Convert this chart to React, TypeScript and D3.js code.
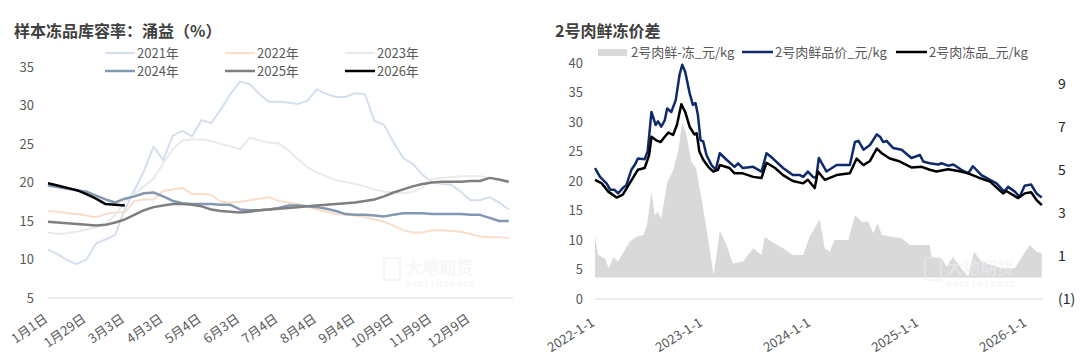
import React from "react";
import * as d3 from "d3";

// ---------- Left chart data ----------
const weekTickLabels = ["1月1日", "1月29日", "3月3日", "4月3日", "5月4日", "6月3日", "7月4日", "8月4日", "9月4日", "10月9日", "11月9日", "12月9日"];
const yearNames = ["2021年", "2022年", "2023年", "2024年", "2025年", "2026年"];
const s2021 = [11.3, 10.7, 9.9, 9.4, 10.0, 12.1, 12.6, 13.2, 16.5, 19.0, 21.5, 24.7, 22.9, 26.1, 26.7, 26.0, 28.1, 27.7, 29.5, 31.5, 33.1, 32.8, 31.5, 30.5, 30.5, 30.4, 30.2, 30.6, 32.1, 31.5, 31.1, 31.1, 31.6, 31.5, 28.0, 27.5, 25.2, 23.2, 22.4, 21.0, 20.1, 19.8, 19.7, 18.8, 17.7, 17.7, 18.1, 17.4, 16.5];
const s2022 = [16.3, 16.2, 16.0, 15.9, 15.7, 15.5, 15.9, 16.1, 16.1, 17.6, 17.8, 17.8, 18.9, 19.1, 19.3, 18.5, 18.5, 18.4, 17.5, 17.4, 17.5, 17.7, 17.9, 18.1, 17.6, 17.4, 17.2, 16.9, 16.5, 16.2, 15.9, 15.8, 15.7, 15.5, 15.2, 14.9, 14.4, 13.8, 13.5, 13.5, 13.8, 13.8, 13.7, 13.6, 13.3, 13.0, 12.9, 12.9, 12.8];
const s2023 = [13.5, 13.3, 13.4, 13.6, 13.9, 14.2, 14.6, 15.8, 17.5, 18.5, 19.5, 20.5, 22.5, 24.3, 25.5, 25.6, 25.6, 25.4, 25.0, 24.7, 24.3, 25.8, 25.5, 25.2, 25.1, 24.2, 23.1, 22.0, 21.3, 20.8, 20.3, 20.1, 19.8, 19.5, 19.1, 18.8, 18.7, 18.6, 18.8, 19.3, 20.5, 20.6, 20.7, 20.8, 20.8, 20.8, 20.6, 20.3, 20.0];
const s2024 = [19.6, 19.4, 19.2, 19.0, 18.8, 18.3, 17.8, 17.4, 17.9, 18.2, 18.6, 18.7, 18.2, 17.6, 17.3, 17.2, 17.2, 17.2, 17.1, 17.1, 16.5, 16.4, 16.4, 16.5, 16.7, 17.0, 17.0, 16.9, 16.8, 16.6, 16.3, 15.9, 15.8, 15.8, 15.7, 15.6, 15.8, 16.0, 16.0, 16.0, 15.9, 15.9, 15.9, 15.9, 15.8, 15.8, 15.4, 15.0, 15.0];
const s2025 = [14.9, 14.8, 14.7, 14.6, 14.5, 14.4, 14.5, 14.8, 15.2, 15.8, 16.4, 16.8, 17.0, 17.2, 17.2, 17.1, 16.9, 16.5, 16.3, 16.2, 16.1, 16.2, 16.4, 16.5, 16.6, 16.7, 16.8, 16.9, 17.0, 17.1, 17.2, 17.3, 17.4, 17.6, 17.8, 18.2, 18.7, 19.1, 19.5, 19.8, 20.0, 20.1, 20.1, 20.1, 20.2, 20.2, 20.6, 20.4, 20.1];
const s2026 = [19.9, 19.6, 19.3, 19.0, 18.5, 17.9, 17.2, 17.1, 17.0];
const leftTicks = [5, 10, 15, 20, 25, 30, 35];

// ---------- Right chart data ----------
const freshDates = ["2022-01-01", "2022-01-18", "2022-02-09", "2022-02-22", "2022-03-08", "2022-03-20", "2022-04-05", "2022-04-17", "2022-05-04", "2022-05-15", "2022-05-26", "2022-06-18", "2022-06-28", "2022-07-11", "2022-07-25", "2022-08-02", "2022-08-13", "2022-08-25", "2022-09-02", "2022-09-16", "2022-10-01", "2022-10-14", "2022-10-23", "2022-11-02", "2022-11-17", "2022-11-28", "2022-12-07", "2022-12-15", "2022-12-24", "2023-01-02", "2023-01-13", "2023-01-30", "2023-02-13", "2023-02-27", "2023-03-22", "2023-04-18", "2023-04-30", "2023-05-16", "2023-06-20", "2023-07-18", "2023-08-04", "2023-08-26", "2023-09-29", "2023-11-01", "2023-11-25", "2023-12-06", "2023-12-22", "2024-01-08", "2024-01-19", "2024-01-28", "2024-02-23", "2024-03-28", "2024-05-12", "2024-05-29", "2024-06-10", "2024-06-27", "2024-07-19", "2024-08-11", "2024-08-22", "2024-09-02", "2024-09-13", "2024-10-05", "2024-11-03", "2024-12-06", "2025-01-04", "2025-01-15", "2025-02-06", "2025-03-07", "2025-03-18", "2025-04-09", "2025-04-27", "2025-05-24", "2025-06-16", "2025-07-02", "2025-07-31", "2025-08-29", "2025-09-20", "2025-10-16", "2025-10-29", "2025-11-21", "2025-12-07", "2025-12-24", "2026-01-15", "2026-02-02", "2026-02-20"];
const freshValues = [22.2, 20.7, 19.6, 18.5, 18.5, 17.9, 18.8, 19.3, 21.9, 22.7, 23.8, 23.7, 25.0, 31.7, 29.5, 30.1, 29.2, 30.3, 32.3, 31.7, 33.7, 38.0, 39.7, 38.5, 34.9, 32.9, 33.2, 31.2, 26.9, 26.7, 24.4, 22.7, 21.9, 24.7, 23.6, 22.4, 23.0, 22.2, 22.4, 21.6, 24.7, 23.8, 22.2, 21.0, 21.0, 20.7, 21.6, 20.7, 20.5, 23.9, 21.6, 22.7, 22.7, 26.6, 26.8, 25.3, 26.1, 27.9, 27.5, 26.6, 26.8, 25.6, 25.3, 23.9, 24.4, 23.3, 23.0, 22.8, 23.0, 22.6, 22.8, 21.9, 21.3, 22.5, 21.0, 20.2, 19.6, 18.2, 19.0, 18.2, 17.3, 19.2, 19.4, 17.9, 17.2];
const frozenDates = ["2022-01-01", "2022-01-24", "2022-02-15", "2022-03-15", "2022-04-05", "2022-04-28", "2022-05-15", "2022-05-26", "2022-06-18", "2022-07-03", "2022-07-11", "2022-07-27", "2022-08-11", "2022-08-25", "2022-09-06", "2022-09-22", "2022-10-05", "2022-10-20", "2022-11-02", "2022-11-17", "2022-12-03", "2022-12-11", "2022-12-20", "2023-01-02", "2023-01-19", "2023-02-05", "2023-02-21", "2023-02-27", "2023-04-01", "2023-04-18", "2023-05-16", "2023-06-20", "2023-07-18", "2023-08-04", "2023-09-02", "2023-09-29", "2023-11-01", "2023-12-06", "2023-12-22", "2024-01-14", "2024-01-25", "2024-02-17", "2024-03-28", "2024-05-12", "2024-06-04", "2024-06-27", "2024-07-19", "2024-08-11", "2024-08-28", "2024-09-24", "2024-10-23", "2024-12-06", "2025-01-10", "2025-02-06", "2025-03-01", "2025-04-09", "2025-05-13", "2025-06-16", "2025-07-20", "2025-08-29", "2025-10-12", "2025-10-23", "2025-12-02", "2025-12-24", "2026-01-15", "2026-02-02", "2026-02-20"];
const frozenValues = [20.2, 19.6, 18.2, 17.2, 17.7, 19.6, 21.0, 21.9, 22.2, 24.4, 27.5, 26.9, 26.6, 27.5, 28.2, 27.8, 29.5, 33.0, 31.7, 29.2, 27.9, 28.1, 25.0, 23.6, 22.4, 21.6, 21.9, 22.7, 22.2, 21.3, 21.3, 20.7, 20.5, 23.1, 22.2, 21.0, 20.0, 19.6, 20.2, 18.8, 21.6, 20.2, 21.0, 21.3, 23.8, 22.7, 23.4, 25.5, 24.7, 23.8, 23.4, 22.3, 22.4, 21.9, 21.6, 22.0, 21.7, 21.3, 20.6, 19.9, 17.9, 18.3, 17.1, 17.9, 18.1, 16.8, 15.9];
const spreadDates = ["2022-01-01", "2022-01-12", "2022-02-03", "2022-02-17", "2022-03-04", "2022-03-20", "2022-04-05", "2022-04-28", "2022-05-21", "2022-06-13", "2022-06-26", "2022-07-11", "2022-07-22", "2022-08-02", "2022-08-13", "2022-09-02", "2022-09-22", "2022-10-09", "2022-10-23", "2022-11-06", "2022-11-23", "2022-12-09", "2022-12-27", "2023-01-13", "2023-02-06", "2023-02-16", "2023-02-27", "2023-03-22", "2023-04-12", "2023-05-16", "2023-06-20", "2023-07-18", "2023-07-29", "2023-08-21", "2023-09-29", "2023-11-01", "2023-12-06", "2023-12-28", "2024-01-31", "2024-02-17", "2024-03-05", "2024-03-21", "2024-05-07", "2024-05-29", "2024-06-21", "2024-07-13", "2024-07-30", "2024-08-14", "2024-08-28", "2024-09-30", "2024-11-03", "2024-12-01", "2025-01-10", "2025-02-06", "2025-02-12", "2025-03-18", "2025-04-04", "2025-04-26", "2025-05-24", "2025-06-16", "2025-07-06", "2025-07-31", "2025-09-03", "2025-10-07", "2025-11-21", "2025-12-19", "2026-01-11", "2026-02-02", "2026-02-20"];
const spreadValues = [1.9, 1.05, 0.9, 0.43, 0.97, 0.74, 1.13, 1.67, 1.9, 1.98, 2.45, 4.0, 2.9, 3.07, 2.76, 4.4, 5.0, 5.87, 7.2, 6.65, 5.4, 5.1, 3.7, 2.3, 0.12, 1.05, 2.2, 1.5, 0.66, 0.74, 1.36, 1.05, 1.9, 1.67, 1.36, 1.05, 1.05, 1.9, 2.7, 1.36, 1.2, 1.75, 1.75, 2.9, 2.6, 2.6, 2.06, 2.53, 1.98, 1.9, 1.83, 1.52, 1.52, 1.52, 0.97, 0.9, 0.5, 0.97, 0.43, 0.04, 1.2, 0.74, 0.58, 0.43, 0.43, 1.05, 1.52, 1.2, 1.13];
const rightDateTicks = ["2022-01-01", "2023-01-01", "2024-01-01", "2025-01-01", "2026-01-01"];
const rightDateTickLabels = ["2022-1-1", "2023-1-1", "2024-1-1", "2025-1-1", "2026-1-1"];
const priceTicks = [0, 5, 10, 15, 20, 25, 30, 35, 40];
const spreadTicks = [-1, 1, 3, 5, 7, 9];
const legendRight = ["2号肉鲜-冻_元/kg", "2号肉鲜品价_元/kg", "2号肉冻品_元/kg"];

const FONT = "'Noto Sans CJK SC', 'Noto Sans', sans-serif";
const AXIS_COLOR = "#595959";

function LeftChart() {
  const x = d3.scaleLinear().domain([0, 48]).range([48, 508.8]);
  const y = d3.scaleLinear().domain([5, 35]).range([298, 67]);
  const line = d3.line<number>().x((_, i) => x(i)).y((d) => y(d));
  const series = [
    { name: yearNames[0], data: s2021, color: "#D3DFEF", w: 2 },
    { name: yearNames[1], data: s2022, color: "#F9DECB", w: 2 },
    { name: yearNames[2], data: s2023, color: "#EAEAEA", w: 2 },
    { name: yearNames[3], data: s2024, color: "#8497B0", w: 2.5 },
    { name: yearNames[4], data: s2025, color: "#7F7F7F", w: 2.5 },
    { name: yearNames[5], data: s2026, color: "#000000", w: 2.5 },
  ];
  return (
    <g fontFamily={FONT}>
      <text x={14} y={37} fontSize={16} fontWeight="bold" fill="#404040">样本冻品库容率：涌益（%）</text>
      {/* watermark */}
      <g opacity={0.5}>
        <rect x={384} y={258} width={16} height={22} rx={3} fill="none" stroke="#E8ECF3" strokeWidth={2} />
        <text x={405} y={274} fontSize={17} fontWeight="bold" fill="#EDF0F5">大地期货</text>
        <text x={405} y={287} fontSize={8} fontWeight="bold" fill="#EDF0F5" letterSpacing={1}>DADI FUTURES</text>
      </g>
      <line x1={48} x2={513} y1={y(5)} y2={y(5)} stroke="#D9D9D9" strokeWidth={1} />
      {leftTicks.map((t) => (
        <text key={t} x={34} y={y(t)} dy="0.35em" textAnchor="end" fontSize={13} fill={AXIS_COLOR}>{t}</text>
      ))}
      {weekTickLabels.map((lab, k) => (
        <text key={lab} transform={`translate(${x(k * 4) - 2},${y(5) + 19}) rotate(-35)`} textAnchor="end" dy="0.35em" fontSize={13} fill={AXIS_COLOR}>{lab}</text>
      ))}
      {series.map((s) => (
        <path key={s.name} d={line(s.data) || ""} fill="none" stroke={s.color} strokeWidth={s.w} strokeLinejoin="round" />
      ))}
      {series.map((s, i) => {
        const col = i % 3;
        const row = Math.floor(i / 3);
        const lx = 105 + col * 120;
        const ly = 53 + row * 18;
        return (
          <g key={"lg" + s.name}>
            <line x1={lx} x2={lx + 30} y1={ly} y2={ly} stroke={s.color} strokeWidth={s.w} />
            <text x={lx + 32} y={ly} dy="0.35em" fontSize={13} fill={AXIS_COLOR}>{s.name}</text>
          </g>
        );
      })}
    </g>
  );
}

function RightChart() {
  const parse = d3.timeParse("%Y-%m-%d");
  const x = d3.scaleTime().domain([parse("2022-01-01")!, parse("2026-01-01")!]).range([595, 1027]);
  const yL = d3.scaleLinear().domain([0, 40]).range([299, 63]);
  const yR = d3.scaleLinear().domain([-1, 10]).range([299, 63]);
  const fresh = freshDates.map((d, i) => ({ d: parse(d)!, v: freshValues[i] }));
  const frozen = frozenDates.map((d, i) => ({ d: parse(d)!, v: frozenValues[i] }));
  const spread = spreadDates.map((d, i) => ({ d: parse(d)!, v: spreadValues[i] }));
  const lineL = d3.line<{ d: Date; v: number }>().x((p) => x(p.d)).y((p) => yL(p.v));
  const areaR = d3.area<{ d: Date; v: number }>().x((p) => x(p.d)).y0(yR(0)).y1((p) => yR(p.v));
  const fmtR = (t: number) => (t < 0 ? `(${Math.abs(t)})` : `${t}`);
  return (
    <g fontFamily={FONT}>
      <text x={555} y={37} fontSize={16} fontWeight="bold" fill="#404040">2号肉鲜冻价差</text>
      <path d={areaR(spread) || ""} fill="#D9D9D9" />
      {/* watermark */}
      <g opacity={0.5}>
        <rect x={925} y={258} width={16} height={22} rx={3} fill="none" stroke="#E8ECF3" strokeWidth={2} />
        <text x={946} y={274} fontSize={17} fontWeight="bold" fill="#EDF0F5">大地期货</text>
        <text x={946} y={287} fontSize={8} fontWeight="bold" fill="#EDF0F5" letterSpacing={1}>DADI FUTURES</text>
      </g>
      <line x1={595} x2={1043} y1={yL(0)} y2={yL(0)} stroke="#D9D9D9" strokeWidth={1} />
      {priceTicks.map((t) => (
        <text key={t} x={583} y={yL(t)} dy="0.35em" textAnchor="end" fontSize={13} fill={AXIS_COLOR}>{t}</text>
      ))}
      {spreadTicks.map((t) => (
        <text key={t} x={1058} y={yR(t)} dy="0.35em" textAnchor="start" fontSize={14} fill="#262626">{fmtR(t)}</text>
      ))}
      {rightDateTicks.map((d, i) => (
        <text key={d} transform={`translate(${x(parse(d)!) - 2},${yL(0) + 22}) rotate(-32)`} textAnchor="end" dy="0.35em" fontSize={13} fill={AXIS_COLOR}>{rightDateTickLabels[i]}</text>
      ))}
      <path d={lineL(fresh) || ""} fill="none" stroke="#0F2A6B" strokeWidth={2.5} strokeLinejoin="round" />
      <path d={lineL(frozen) || ""} fill="none" stroke="#000000" strokeWidth={2.5} strokeLinejoin="round" />
      {/* legend */}
      <rect x={598} y={49} width={29} height={7} fill="#D9D9D9" />
      <text x={631} y={52} dy="0.35em" fontSize={13} fill={AXIS_COLOR}>{legendRight[0]}</text>
      <line x1={742} x2={773} y1={52} y2={52} stroke="#0F2A6B" strokeWidth={2.5} />
      <text x={775} y={52} dy="0.35em" fontSize={13} fill={AXIS_COLOR}>{legendRight[1]}</text>
      <line x1={896} x2={927} y1={52} y2={52} stroke="#000000" strokeWidth={2.5} />
      <text x={929} y={52} dy="0.35em" fontSize={13} fill={AXIS_COLOR}>{legendRight[2]}</text>
    </g>
  );
}

export default function App() {
  return (
    <svg width={1080} height={360} style={{ position: "absolute", left: 0, top: 0, background: "#fff" }}>
      <rect width={1080} height={360} fill="#fff" />
      <LeftChart />
      <RightChart />
    </svg>
  );
}
